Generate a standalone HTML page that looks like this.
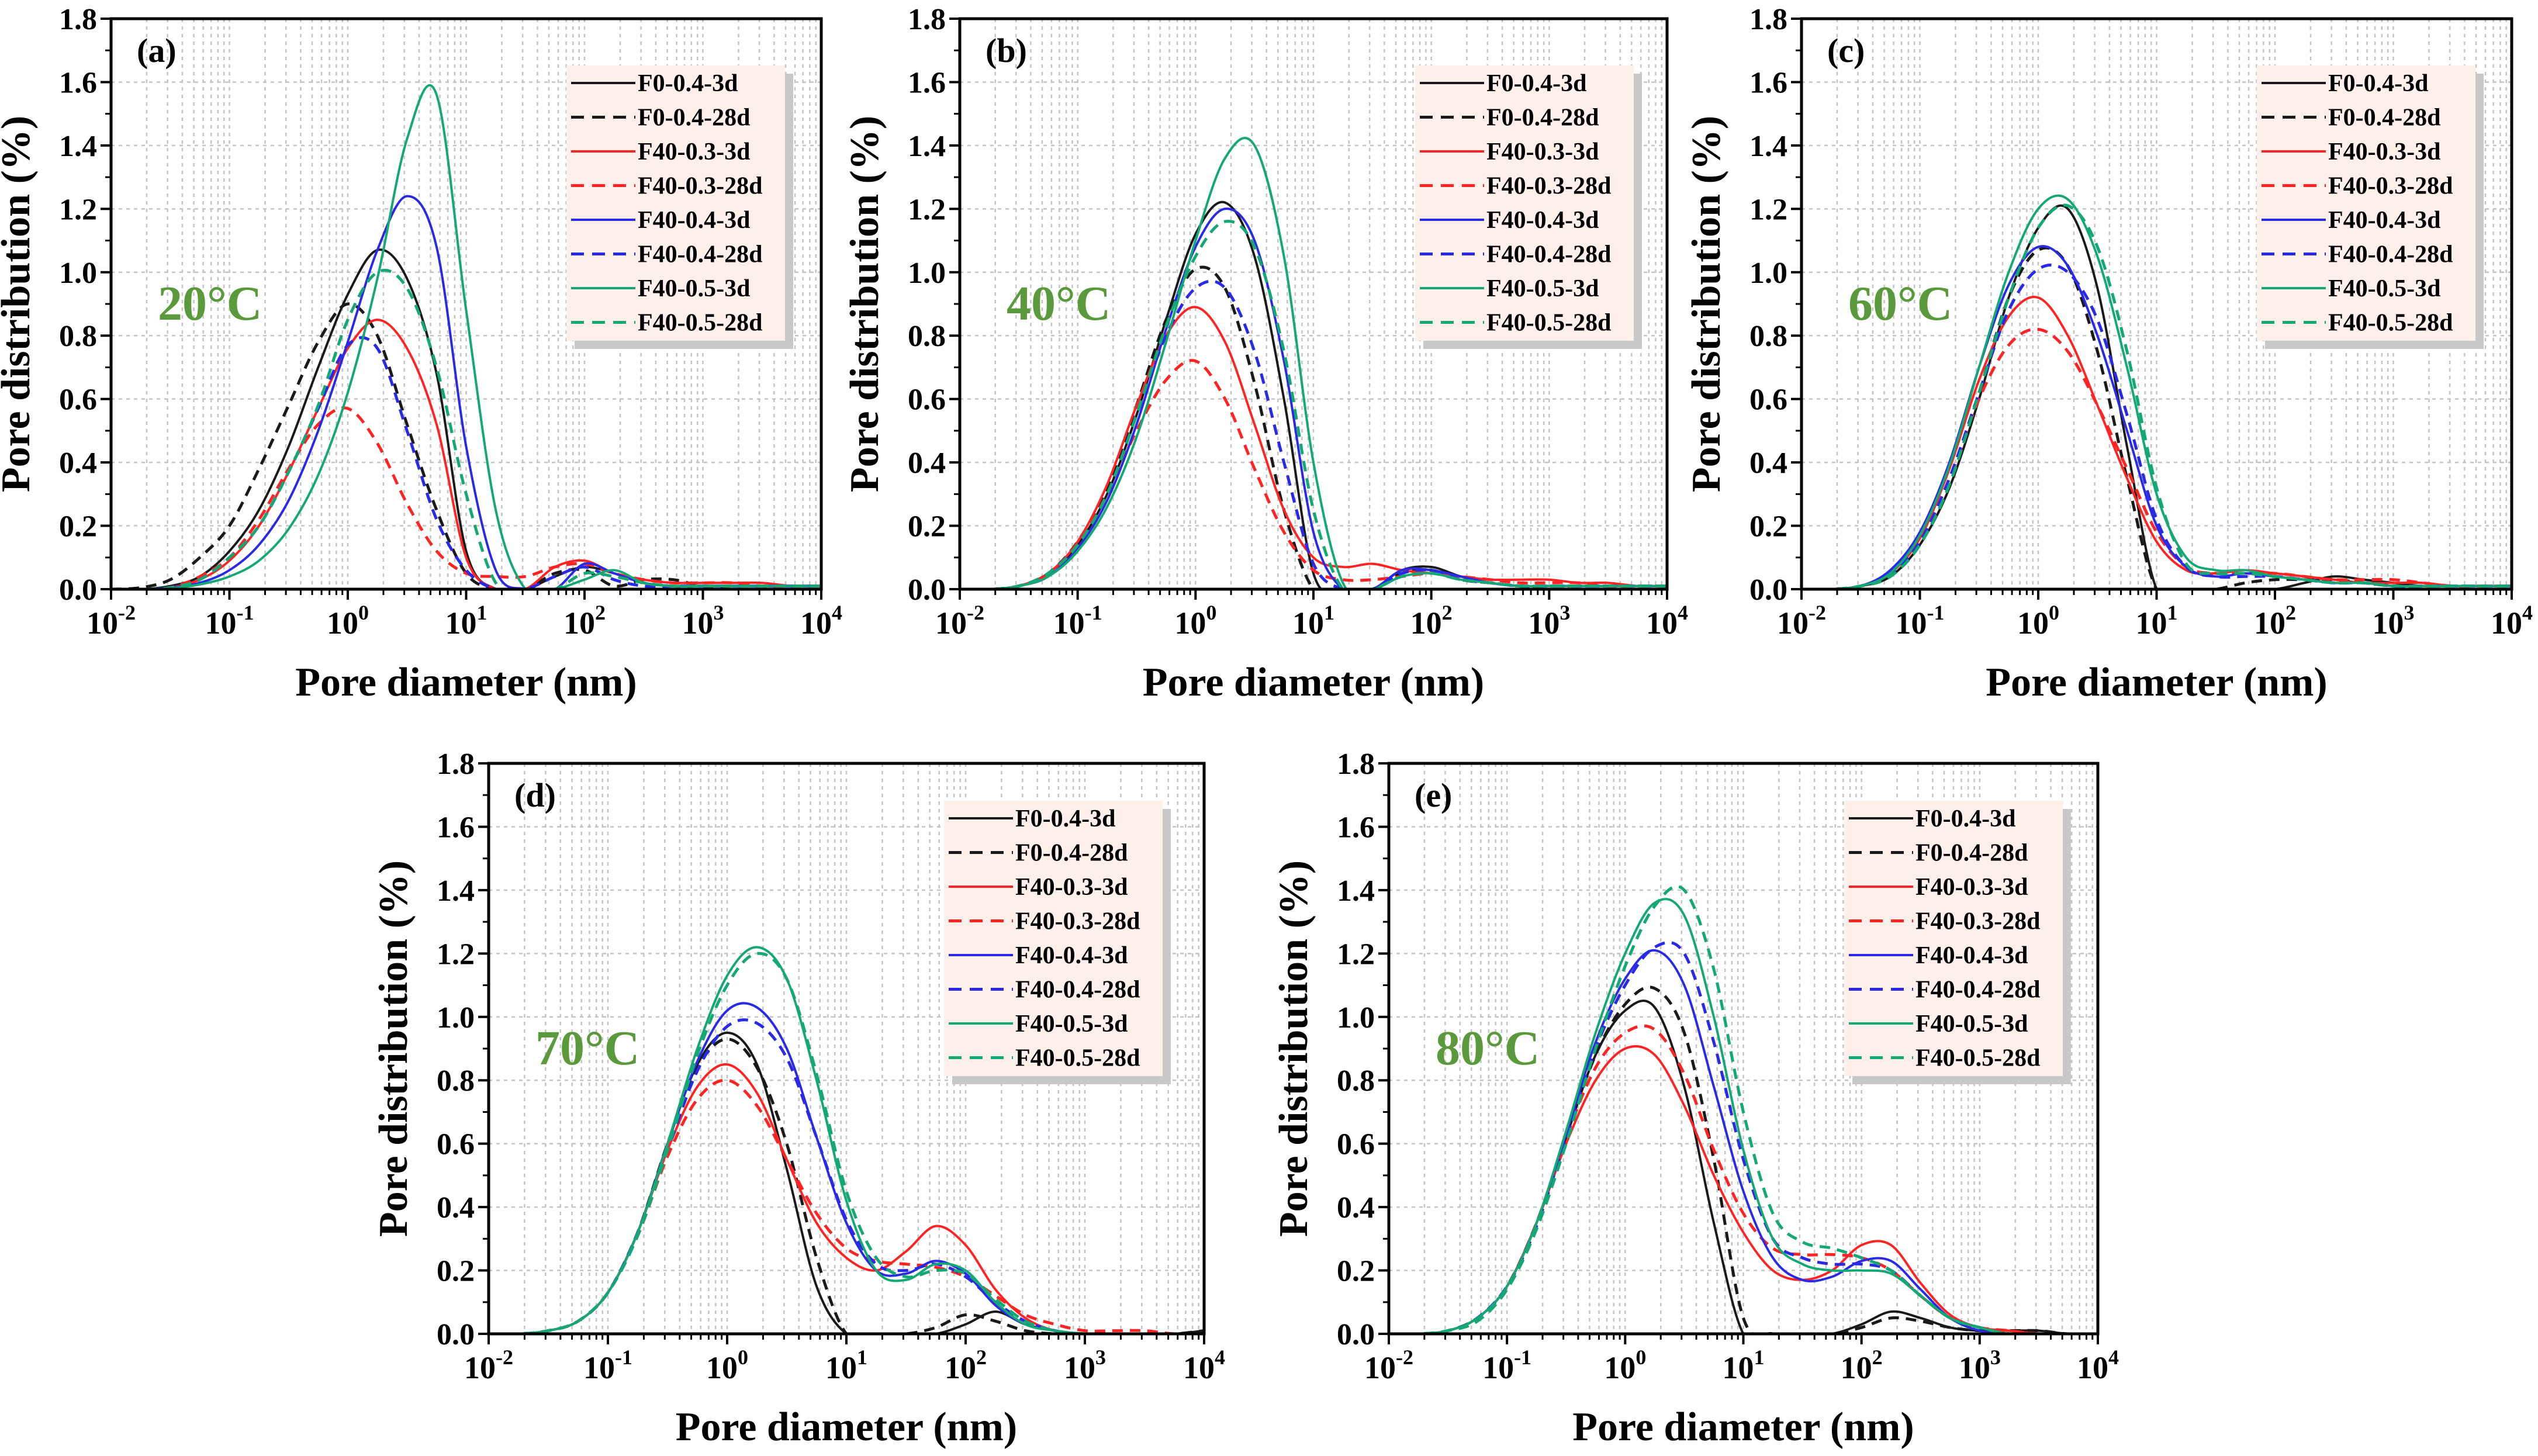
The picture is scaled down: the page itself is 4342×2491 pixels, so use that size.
<!DOCTYPE html>
<html><head><meta charset="utf-8"><title>Pore distribution</title>
<style>
html,body{margin:0;padding:0;background:#fff;}
svg{display:block;}
text{font-family:"Liberation Serif","Times New Roman",serif;font-weight:bold;fill:#000;}
</style></head>
<body>
<svg id="fig" xmlns="http://www.w3.org/2000/svg" width="4342" height="2491" viewBox="0 0 4342 2491"></svg>
<script>
// log10 of pore diameter (nm) sample points
const logD = [-2,-1.75,-1.5,-1.25,-1,-0.75,-0.5,-0.25,0,0.25,0.5,0.75,1,1.25,1.5,1.75,2,2.25,2.5,2.75,3,3.25,3.5,3.75,4];
const seriesNames = ["F0-0.4-3d","F0-0.4-28d","F40-0.3-3d","F40-0.3-28d","F40-0.4-3d","F40-0.4-28d","F40-0.5-3d","F40-0.5-28d"];
const yTicks = [0,0.2,0.4,0.6,0.8,1.0,1.2,1.4,1.6,1.8];
const xTickExp = [-2,-1,0,1,2,3,4];
const panelLabels = ["(a)","(b)","(c)","(d)","(e)"];
const tempLabels = ["20°C","40°C","60°C","70°C","80°C"];

// Panel (a) 20°C
const a_k3  = [0,0,0.01,0.04,0.12,0.25,0.45,0.70,0.93,1.07,0.98,0.68,0.12,0,0,0.04,0.07,0.05,0.02,0.01,0.01,0.01,0.01,0.01,0.01];
const a_k28 = [0,0.005,0.03,0.10,0.20,0.38,0.58,0.78,0.90,0.80,0.52,0.25,0.05,0,0,0.05,0.06,0.01,0.03,0.03,0.01,0.01,0.01,0.01,0.01];
const a_r3  = [0,0,0.005,0.03,0.09,0.20,0.37,0.57,0.76,0.85,0.76,0.52,0.10,0,0,0.07,0.09,0.05,0.03,0.02,0.02,0.02,0.02,0.01,0.01];
const a_r28 = [0,0,0.005,0.04,0.10,0.22,0.38,0.52,0.57,0.46,0.27,0.12,0.05,0.04,0.04,0.07,0.08,0.05,0.03,0.02,0.02,0.02,0.01,0.01,0.01];
const a_b3  = [0,0,0.005,0.02,0.06,0.14,0.28,0.50,0.78,1.07,1.24,1.08,0.45,0.06,0,0,0.08,0.05,0.02,0.01,0.01,0.01,0.01,0.01,0.01];
const a_b28 = [0,0,0.005,0.03,0.10,0.20,0.37,0.57,0.77,0.76,0.50,0.22,0.06,0,0,0.04,0.07,0.03,0.01,0.01,0.01,0.01,0.01,0.01,0.01];
const a_g3  = [0,0,0.003,0.015,0.04,0.09,0.19,0.36,0.62,0.98,1.42,1.56,0.88,0.25,0,0,0.03,0.06,0.02,0.01,0.01,0.01,0.01,0.01,0.01];
const a_g28 = [0,0,0.005,0.03,0.10,0.20,0.37,0.58,0.85,1.00,0.95,0.70,0.30,0.02,0,0,0.05,0.04,0.02,0.01,0.01,0.01,0.01,0.01,0.01];
// Panel (b) 40°C
const b_k3  = [0,0,0.01,0.05,0.14,0.30,0.55,0.85,1.12,1.22,1.05,0.60,0.05,0,0,0.06,0.07,0.04,0.02,0.01,0.01,0.01,0.01,0.01,0.01];
const b_k28 = [0,0,0.01,0.05,0.15,0.32,0.58,0.85,1.01,0.95,0.65,0.25,0,0,0,0.05,0.06,0.03,0.02,0.01,0.01,0.01,0.01,0.01,0.01];
const b_r3  = [0,0,0.01,0.05,0.15,0.33,0.58,0.80,0.89,0.78,0.52,0.25,0.10,0.07,0.08,0.06,0.05,0.04,0.03,0.03,0.03,0.02,0.02,0.01,0.01];
const b_r28 = [0,0,0.01,0.05,0.14,0.30,0.50,0.66,0.72,0.60,0.38,0.18,0.06,0.03,0.03,0.04,0.05,0.04,0.03,0.02,0.02,0.02,0.01,0.01,0.01];
const b_b3  = [0,0,0.01,0.04,0.13,0.28,0.52,0.82,1.08,1.20,1.10,0.72,0.18,0,0,0.06,0.06,0.04,0.02,0.01,0.01,0.01,0.01,0.01,0.01];
const b_b28 = [0,0,0.01,0.05,0.14,0.30,0.55,0.80,0.95,0.95,0.75,0.40,0.08,0,0,0.05,0.06,0.03,0.02,0.01,0.01,0.01,0.01,0.01,0.01];
const b_g3  = [0,0,0.01,0.04,0.12,0.26,0.48,0.78,1.10,1.36,1.40,1.05,0.40,0.02,0,0.04,0.05,0.03,0.02,0.01,0.01,0.01,0.01,0.01,0.01];
const b_g28 = [0,0,0.01,0.05,0.14,0.30,0.55,0.83,1.05,1.16,1.08,0.75,0.25,0,0,0.04,0.05,0.03,0.02,0.01,0.01,0.01,0.01,0.01,0.01];
// Panel (c) 60°C
const c_k3  = [0,0,0.01,0.04,0.14,0.32,0.60,0.92,1.14,1.20,0.95,0.45,0,0,0,0,0,0.02,0.04,0.03,0.02,0.01,0.01,0.01,0.01];
const c_k28 = [0,0,0.01,0.04,0.14,0.33,0.62,0.92,1.07,1.02,0.75,0.35,0,0,0,0.02,0.03,0.03,0.03,0.02,0.01,0.01,0.01,0.01,0.01];
const c_r3  = [0,0,0.01,0.05,0.16,0.38,0.66,0.86,0.92,0.80,0.58,0.35,0.15,0.06,0.05,0.06,0.05,0.04,0.03,0.02,0.02,0.02,0.01,0.01,0.01];
const c_r28 = [0,0,0.01,0.05,0.15,0.35,0.60,0.77,0.82,0.75,0.58,0.38,0.18,0.07,0.05,0.05,0.05,0.04,0.03,0.03,0.03,0.02,0.01,0.01,0.01];
const c_b3  = [0,0,0.01,0.06,0.18,0.40,0.70,0.96,1.08,1.02,0.80,0.50,0.20,0.07,0.04,0.05,0.04,0.03,0.02,0.02,0.01,0.01,0.01,0.01,0.01];
const c_b28 = [0,0,0.01,0.05,0.15,0.35,0.62,0.88,1.01,1.00,0.85,0.55,0.22,0.07,0.04,0.04,0.04,0.03,0.02,0.02,0.01,0.01,0.01,0.01,0.01];
const c_g3  = [0,0,0.01,0.05,0.17,0.39,0.70,1.00,1.20,1.23,1.05,0.70,0.30,0.10,0.06,0.06,0.04,0.03,0.02,0.02,0.01,0.01,0.01,0.01,0.01];
const c_g28 = [0,0,0.01,0.04,0.14,0.33,0.62,0.92,1.14,1.21,1.08,0.75,0.32,0.08,0.05,0.05,0.04,0.03,0.02,0.02,0.01,0.01,0.01,0.01,0.01];
// Panel (d) 70°C
const d_k3  = [0,0,0.01,0.04,0.13,0.32,0.60,0.85,0.95,0.85,0.52,0.15,0,0,0,0,0.03,0.07,0.03,0.01,0,0,0,0,0.01];
const d_k28 = [0,0,0.01,0.04,0.13,0.32,0.60,0.84,0.93,0.84,0.60,0.24,0,0,0,0.02,0.06,0.04,0.01,0,0,0,0,0,0.01];
const d_r3  = [0,0,0.01,0.04,0.13,0.32,0.58,0.78,0.85,0.76,0.55,0.35,0.24,0.20,0.26,0.34,0.28,0.14,0.05,0.01,0,0,0,0,0];
const d_r28 = [0,0,0.01,0.04,0.13,0.31,0.56,0.74,0.80,0.72,0.55,0.38,0.27,0.23,0.22,0.21,0.18,0.12,0.06,0.03,0.01,0.01,0.01,0,0];
const d_b3  = [0,0,0.01,0.04,0.13,0.32,0.60,0.86,1.02,1.03,0.90,0.62,0.35,0.20,0.19,0.23,0.19,0.09,0.03,0.01,0,0,0,0,0];
const d_b28 = [0,0,0.01,0.04,0.13,0.32,0.58,0.83,0.97,0.98,0.87,0.62,0.36,0.22,0.20,0.22,0.18,0.10,0.04,0.01,0,0,0,0,0];
const d_g3  = [0,0,0.01,0.04,0.13,0.32,0.60,0.90,1.13,1.22,1.12,0.80,0.42,0.20,0.17,0.22,0.20,0.10,0.03,0.01,0,0,0,0,0];
const d_g28 = [0,0,0.01,0.04,0.13,0.31,0.58,0.88,1.10,1.20,1.12,0.82,0.45,0.24,0.18,0.20,0.19,0.11,0.04,0.01,0,0,0,0,0];
// Panel (e) 80°C
const e_k3  = [0,0,0.01,0.05,0.15,0.35,0.62,0.88,1.02,1.03,0.78,0.35,0,0,0,0,0.03,0.07,0.05,0.02,0.01,0.01,0.01,0,0];
const e_k28 = [0,0,0.01,0.05,0.15,0.35,0.62,0.88,1.04,1.09,0.95,0.55,0.05,0,0,0,0.02,0.05,0.04,0.02,0.01,0.01,0.01,0,0];
const e_r3  = [0,0,0.01,0.05,0.15,0.35,0.60,0.80,0.90,0.88,0.72,0.50,0.32,0.20,0.17,0.20,0.28,0.28,0.16,0.06,0.02,0.01,0,0,0];
const e_r28 = [0,0,0.01,0.05,0.15,0.35,0.62,0.84,0.95,0.96,0.82,0.58,0.38,0.27,0.25,0.25,0.24,0.20,0.12,0.05,0.02,0.01,0,0,0];
const e_b3  = [0,0,0.01,0.05,0.15,0.35,0.63,0.92,1.12,1.21,1.10,0.78,0.45,0.24,0.17,0.18,0.23,0.23,0.14,0.05,0.01,0,0,0,0];
const e_b28 = [0,0,0.01,0.05,0.15,0.34,0.62,0.90,1.10,1.22,1.20,0.92,0.55,0.30,0.24,0.22,0.22,0.20,0.12,0.05,0.02,0,0,0,0];
const e_g3  = [0,0,0.01,0.05,0.15,0.35,0.64,0.95,1.20,1.36,1.32,1.00,0.58,0.30,0.22,0.20,0.20,0.19,0.12,0.05,0.02,0,0,0,0];
const e_g28 = [0,0,0.01,0.04,0.14,0.33,0.60,0.90,1.16,1.35,1.40,1.15,0.70,0.38,0.29,0.27,0.24,0.20,0.12,0.05,0.02,0,0,0,0];

const panelData = [
  [a_k3,a_k28,a_r3,a_r28,a_b3,a_b28,a_g3,a_g28],
  [b_k3,b_k28,b_r3,b_r28,b_b3,b_b28,b_g3,b_g28],
  [c_k3,c_k28,c_r3,c_r28,c_b3,c_b28,c_g3,c_g28],
  [d_k3,d_k28,d_r3,d_r28,d_b3,d_b28,d_g3,d_g28],
  [e_k3,e_k28,e_r3,e_r28,e_b3,e_b28,e_g3,e_g28]
];

const NS = "http://www.w3.org/2000/svg";
const svg = document.getElementById('fig');
const colors = ["#1a1a1a","#1a1a1a","#ff2424","#ff2424","#2a2ae6","#2a2ae6","#14a874","#14a874"];
const dashed = [false,true,false,true,false,true,false,true];
const layout = [
  {x:190,y:32,w:1215,h:976,leg:80},
  {x:1642,y:32,w:1210,h:976,leg:80},
  {x:3082,y:32,w:1215,h:976,leg:80},
  {x:836,y:1306,w:1224,h:976,leg:64},
  {x:2376,y:1306,w:1213,h:976,leg:64}
];
function el(tag, attrs, parent){
  const e = document.createElementNS(NS, tag);
  for (const k in attrs) e.setAttribute(k, attrs[k]);
  (parent||svg).appendChild(e);
  return e;
}
function smoothPath(pts){
  let d = "M"+pts[0][0].toFixed(1)+","+pts[0][1].toFixed(1);
  for (let i=0;i<pts.length-1;i++){
    const p0=pts[i-1]||pts[i], p1=pts[i], p2=pts[i+1], p3=pts[i+2]||pts[i+1];
    const c1x=p1[0]+(p2[0]-p0[0])/6, c1y=p1[1]+(p2[1]-p0[1])/6;
    const c2x=p2[0]-(p3[0]-p1[0])/6, c2y=p2[1]-(p3[1]-p1[1])/6;
    d += " C"+c1x.toFixed(1)+","+c1y.toFixed(1)+" "+c2x.toFixed(1)+","+c2y.toFixed(1)+" "+p2[0].toFixed(1)+","+p2[1].toFixed(1);
  }
  return d;
}
const defs = el('defs', {});

layout.forEach((L, pi) => {
  const g = el('g', {});
  
  
  const xs = lx => L.x + (lx + 2) / 6 * L.w;
  const ys = v => L.y + L.h - v / 1.8 * L.h;
  const cp = el('clipPath', {id:'clip'+pi}, defs);
  el('rect', {x:L.x, y:L.y, width:L.w, height:L.h-1}, cp);
  // grid
  const grid = el('g', {stroke:"#c4c4c4","stroke-width":2.5,"stroke-dasharray":"6,7"}, g);
  
  
  for (let e=-2;e<4;e++){
    for (let m=1;m<10;m++){
      const lx = e + Math.log10(m);
      if (lx<=-2) continue;
      el('line',{x1:xs(lx),x2:xs(lx),y1:L.y,y2:L.y+L.h},grid);
    }
  }
  yTicks.forEach(v=>{ if(v>0&&v<1.8) el('line',{x1:L.x,x2:L.x+L.w,y1:ys(v),y2:ys(v)},grid); });
  // curves
  const cg = el('g', {"clip-path":"url(#clip"+pi+")"}, g);
  
  
  panelData[pi].forEach((arr, si) => {
    const pts = logD.map((lx,i)=>[xs(lx), ys(arr[i])]);
    const p = el('path',{d:smoothPath(pts),fill:"none",stroke:colors[si],"stroke-width":dashed[si]?5:4,"stroke-dasharray":dashed[si]?"18,12":"none","stroke-linejoin":"round"}, cg);
    
    
  });
  // frame
  const frame = el('rect',{x:L.x,y:L.y,width:L.w,height:L.h,fill:"none",stroke:"#000","stroke-width":5}, g);
  
  
  // x ticks
  for (let e=-2;e<=4;e++){
    el('line',{x1:xs(e),x2:xs(e),y1:L.y+L.h,y2:L.y+L.h+18,stroke:"#000","stroke-width":4},g);
    if (e<4) for (let m=2;m<10;m++){ const lx=e+Math.log10(m); el('line',{x1:xs(lx),x2:xs(lx),y1:L.y+L.h,y2:L.y+L.h+10,stroke:"#000","stroke-width":3},g); }
  }
  xTickExp.forEach(e=>{
    const t = el('text',{x:xs(e),y:L.y+L.h+76,"font-size":54,"text-anchor":"middle"},g);
    
    
    t.textContent = "10";
    const s = el('tspan',{dy:-24,"font-size":36},t); s.textContent = String(e);
  });
  // y ticks
  yTicks.forEach(v=>{
    el('line',{x1:L.x-18,x2:L.x,y1:ys(v),y2:ys(v),stroke:"#000","stroke-width":4},g);
    if (v<1.8) el('line',{x1:L.x-10,x2:L.x,y1:ys(v+0.1),y2:ys(v+0.1),stroke:"#000","stroke-width":3},g);
    const t = el('text',{x:L.x-24,y:ys(v)+18,"font-size":52,"text-anchor":"end"},g);
    
    
    t.textContent = v.toFixed(1);
  });
  // axis titles
  const xt = el('text',{x:L.x+L.w/2,y:L.y+L.h+182,"font-size":70,"text-anchor":"middle"},g);
  
  
  xt.textContent = "Pore diameter (nm)";
  const yt = el('text',{x:0,y:0,"font-size":70,"text-anchor":"middle",transform:"translate("+(L.x-140)+","+(L.y+L.h/2)+") rotate(-90)"},g);
  
  
  yt.textContent = "Pore distribution (%)";
  // panel label and temperature
  const pl = el('text',{x:L.x+44,y:L.y+74,"font-size":58},g);
  
  
  pl.textContent = panelLabels[pi];
  const tl = el('text',{x:L.x+80,y:L.y+515,"font-size":84,style:"fill:#5b9a3c"},g);
  
  
  tl.textContent = tempLabels[pi];
  // legend
  const lg = el('g',{},g);
  
  
  const lx0 = L.x + 779, ly0 = L.y + L.leg;
  el('rect',{x:lx0+14,y:ly0+14,width:374,height:471,fill:"#c8c8c8"},lg);
  el('rect',{x:lx0,y:ly0,width:374,height:471,fill:"#fdf0eb"},lg);
  seriesNames.forEach((n,si)=>{
    const cy = ly0 + 30 + si*58.5;
    const it = el('g',{},lg);
    
    
    el('line',{x1:lx0+8,x2:lx0+118,y1:cy,y2:cy,stroke:colors[si],"stroke-width":dashed[si]?5:4,"stroke-dasharray":dashed[si]?"22,14":"none"},it);
    const t = el('text',{x:lx0+122,y:cy+14,"font-size":42},it);
    t.textContent = n;
  });
});
</script>
</body></html>
